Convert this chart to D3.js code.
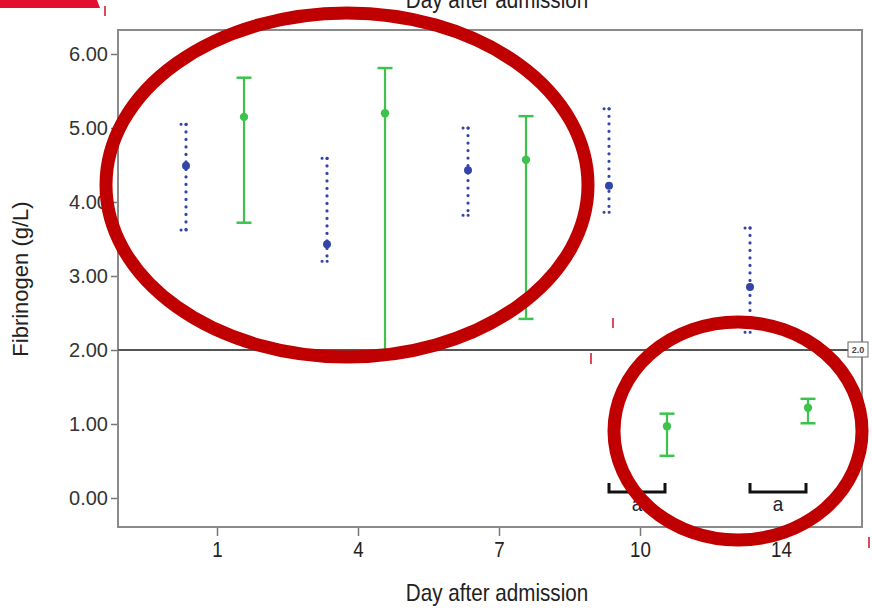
<!DOCTYPE html>
<html>
<head>
<meta charset="utf-8">
<script src="https://cdn.jsdelivr.net/npm/d3@7"></script>
<style>
  body { margin: 0; background: #fff; }
  text { font-family: "Liberation Sans", Arial, sans-serif; }
</style>
</head>
<body>
<script>
// data
const days = ["1", "4", "7", "10", "14"];
const yTicks = [0, 1, 2, 3, 4, 5, 6];
const blueMean = [4.49, 3.43, 4.43, 4.22, 2.85];
const blueLow = [3.62, 3.20, 3.82, 3.86, 2.24];
const blueHigh = [5.05, 4.59, 5.00, 5.26, 3.65];
const greenMean = [5.15, 5.20, 4.57, 0.97, 1.22];
const greenLow = [3.72, 2.00, 2.42, 0.57, 1.01];
const greenHigh = [5.68, 5.81, 5.16, 1.14, 1.34];
const bracketDays = ["10", "14"];

const w = 872, h = 608;
const fLeft = 118, fRight = 862, fTop = 30, fBottom = 527;

const svg = d3.select("body").append("svg")
    .attr("width", w)
    .attr("height", h);

const x = d3.scalePoint().domain(days).range([217, 781]);
const y = d3.scaleLinear().domain([0, 6]).range([498, 54]);

// frame
svg.append("rect")
    .attr("x", fLeft).attr("y", fTop)
    .attr("width", fRight - fLeft).attr("height", fBottom - fTop)
    .attr("fill", "none").attr("stroke", "#8a8a8a").attr("stroke-width", 2);

// axes
const yAxis = d3.axisLeft(y).tickValues(yTicks).tickFormat(d3.format(".2f")).tickSize(6).tickPadding(3);
const gy = svg.append("g").attr("transform", "translate(" + (fLeft - 1) + ",0)").call(yAxis);
gy.select(".domain").remove();
gy.selectAll("line").attr("stroke", "#777").attr("stroke-width", 1.5);
gy.selectAll("text").attr("fill", "#333").attr("font-size", 20);

const xAxis = d3.axisBottom(x).tickSize(8).tickPadding(5);
const gx = svg.append("g").attr("transform", "translate(0," + (fBottom + 1) + ")").call(xAxis);
gx.select(".domain").remove();
gx.selectAll("line").attr("stroke", "#777").attr("stroke-width", 1.5);
gx.selectAll("text").attr("fill", "#222").attr("font-size", 22)
    .attr("transform", "scale(0.85,1)");

// reference line at 2.00
svg.append("line")
    .attr("x1", fLeft).attr("x2", 848)
    .attr("y1", y(2)).attr("y2", y(2))
    .attr("stroke", "#555").attr("stroke-width", 2);
svg.append("rect")
    .attr("x", 848).attr("y", y(2) - 8).attr("width", 20).attr("height", 15)
    .attr("fill", "#fff").attr("stroke", "#666").attr("stroke-width", 1);
svg.append("text")
    .attr("x", 858).attr("y", y(2) + 3)
    .attr("text-anchor", "middle").attr("font-size", 9).attr("font-weight", "bold")
    .attr("fill", "#444").text("2.0");

// blue (dotted) error bars
const blueCol = "#3346a8";
const blue = svg.append("g");
days.forEach((d, i) => {
    const cx = x(d) - 31;
    blue.append("line")
        .attr("x1", cx).attr("x2", cx)
        .attr("y1", y(blueHigh[i])).attr("y2", y(blueLow[i]))
        .attr("stroke", blueCol).attr("stroke-width", 3.2)
        .attr("stroke-linecap", "round").attr("stroke-dasharray", "0.1,7.4");
    [blueHigh[i], blueLow[i]].forEach(v => {
        blue.append("line")
            .attr("x1", cx - 5).attr("x2", cx + 5)
            .attr("y1", y(v)).attr("y2", y(v))
            .attr("stroke", blueCol).attr("stroke-width", 3)
            .attr("stroke-linecap", "round").attr("stroke-dasharray", "0.1,5");
    });
    blue.append("circle")
        .attr("cx", cx).attr("cy", y(blueMean[i])).attr("r", 4)
        .attr("fill", blueCol);
});

// green (solid) error bars
const greenCol = "#3ec24e";
const green = svg.append("g");
days.forEach((d, i) => {
    const cx = x(d) + 27;
    green.append("line")
        .attr("x1", cx).attr("x2", cx)
        .attr("y1", y(greenHigh[i])).attr("y2", y(greenLow[i]))
        .attr("stroke", greenCol).attr("stroke-width", 2.2);
    [greenHigh[i], greenLow[i]].forEach(v => {
        green.append("line")
            .attr("x1", cx - 7.5).attr("x2", cx + 7.5)
            .attr("y1", y(v)).attr("y2", y(v))
            .attr("stroke", greenCol).attr("stroke-width", 2.5);
    });
    green.append("circle")
        .attr("cx", cx).attr("cy", y(greenMean[i])).attr("r", 4.2)
        .attr("fill", greenCol);
});

// significance brackets
bracketDays.forEach(d => {
    const cx = x(d) - 3;
    svg.append("path")
        .attr("d", "M" + (cx - 28) + ",483V492H" + (cx + 28) + "V483")
        .attr("fill", "none").attr("stroke", "#111").attr("stroke-width", 3);
    svg.append("text")
        .attr("transform", "translate(" + cx + ",511) scale(0.9,1)")
        .attr("text-anchor", "middle").attr("font-size", 21).attr("fill", "#223")
        .text("a");
});

// axis titles
[601, 8].forEach(ty => {
    svg.append("text")
        .attr("transform", "translate(497," + ty + ") scale(0.86,1)")
        .attr("text-anchor", "middle").attr("font-size", 24).attr("fill", "#222")
        .text("Day after admission");
});
svg.append("text")
    .attr("transform", "translate(28,279) rotate(-90)")
    .attr("text-anchor", "middle").attr("font-size", 22).attr("fill", "#222")
    .text("Fibrinogen (g/L)");

// red annotation ellipses and marks
svg.append("ellipse")
    .attr("cx", 347).attr("cy", 185).attr("rx", 241).attr("ry", 172)
    .attr("fill", "none").attr("stroke", "#c00000").attr("stroke-width", 13);
svg.append("ellipse")
    .attr("cx", 738).attr("cy", 431).attr("rx", 124).attr("ry", 109)
    .attr("fill", "none").attr("stroke", "#c00000").attr("stroke-width", 13);
svg.append("path")
    .attr("d", "M0,0H97L100,8H0Z")
    .attr("fill", "#e2102e");
[[105, 6, 16], [613, 318, 328], [591, 353, 364], [869, 537, 548]].forEach(m => {
    svg.append("line")
        .attr("x1", m[0]).attr("x2", m[0]).attr("y1", m[1]).attr("y2", m[2])
        .attr("stroke", "#d01020").attr("stroke-width", 1.5);
});
</script>
</body>
</html>
